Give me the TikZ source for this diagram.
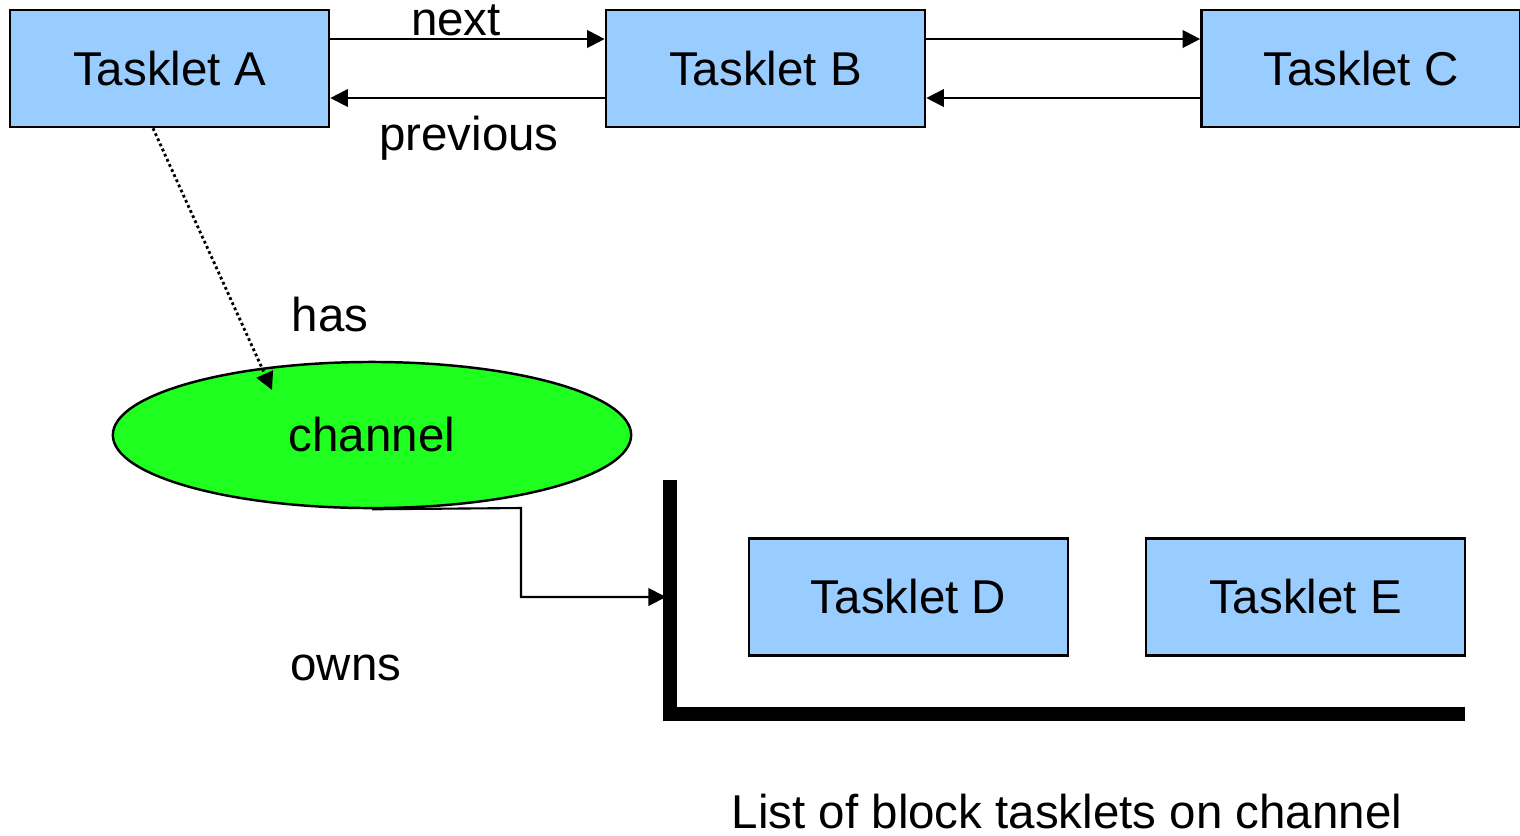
\documentclass[tikz,border=0pt]{standalone}
\usepackage{fontspec}
\setmainfont{Liberation Sans}
\usetikzlibrary{arrows.meta,shapes.geometric}
\begin{document}
\begin{tikzpicture}[x=0.01cm,y=-0.01cm,
  tbox/.style={draw=black,line width=0.7pt,fill={rgb,255:red,153;green,204;blue,255},minimum width=3.19cm,minimum height=1.17cm,inner sep=0pt,font=\fontsize{13.5}{16}\selectfont},
  lbl/.style={inner sep=0pt,font=\fontsize{13.5}{16}\selectfont},
  conn/.style={line width=0.6pt,-{Triangle[length=5pt,width=5pt]}},
  dots/.style={line width=0.8pt,dash pattern=on 0.8pt off 0.8pt},
  thick bar/.style={line width=3.8pt}]
\useasboundingbox (0,0) rectangle (1520,835);
\node[tbox] (A) at (169.5,68.5) {Tasklet A};
\node[tbox] (B) at (765.5,68.5) {Tasklet B};
\node[tbox] (C) at (1361,68.5) {Tasklet C};
\node[tbox] (D) at (908.5,597) {Tasklet D};
\node[tbox] (E) at (1305.5,597) {Tasklet E};
\node[draw=black,line width=0.7pt,fill={rgb,255:red,31;green,255;blue,31},ellipse,minimum width=5.18cm,minimum height=1.46cm,inner sep=0pt,font=\fontsize{13.5}{16}\selectfont] (ch) at (372,435) {channel};
% horizontal links
\draw[conn] (A.east |- 0,39) -- (B.west |- 0,39);
\draw[conn] (B.west |- 0,98) -- (A.east |- 0,98);
\draw[conn] (B.east |- 0,39) -- (C.west |- 0,39);
\draw[conn] (C.west |- 0,98) -- (B.east |- 0,98);
\node[lbl] (next) at (456,20) {next};
\node[lbl] (prev) at (469,138) {previous};
% has
\coordinate (hasend) at (272,390);
\draw[conn,dots] (A.south -| 153,0) -- (hasend);
\node[lbl] (has) at (330,315) {has};
% bracket
\coordinate (bt) at (670,480);
\coordinate (bc) at (670,714);
\coordinate (br) at (1465,714);
\coordinate (bm) at (666,597);
\draw[thick bar] (bt) -- (bc) -- (br);
\draw[conn] (ch.south) -- (521,508) -- (521,597) -- (bm);
\node[lbl] (owns) at (346,668) {owns};
\node[lbl] (list) at (1067,812) {List of block tasklets on channel};
\end{tikzpicture}
\end{document}
